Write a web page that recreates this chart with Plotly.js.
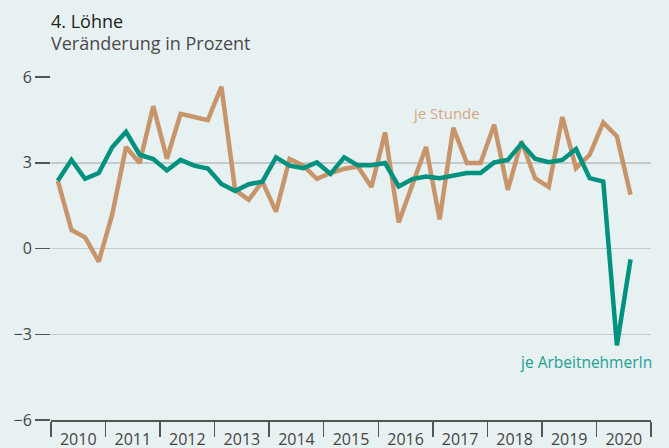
<!DOCTYPE html>
<html>
<head>
<meta charset="utf-8">
<script src="https://cdn.plot.ly/plotly-3.0.1.min.js"></script>
<style>html,body{margin:0;padding:0;background:#e8f1f2;}#chart{width:669px;height:448px;}</style>
</head>
<body>
<div id="chart"></div>
<script>
// Quarterly data, 2010 Q1 – 2020 Q3
const years = [2010, 2011, 2012, 2013, 2014, 2015, 2016, 2017, 2018, 2019, 2020];
const quarters = [];
years.forEach(y => { for (let q = 1; q <= 4; q++) quarters.push(y + (q - 0.5) / 4); });
const xq = quarters.slice(0, 43);

const jeStunde = [2.37, 0.65, 0.39, -0.46, 1.21, 3.55, 2.99, 4.98, 3.14, 4.71, 4.60, 4.49,
  5.66, 2.05, 1.70, 2.34, 1.29, 3.13, 2.90, 2.44, 2.64, 2.79, 2.87, 2.15,
  4.06, 0.91, 2.23, 3.55, 1.02, 4.22, 2.99, 2.99, 4.33, 2.05, 3.75, 2.46,
  2.15, 4.60, 2.81, 3.28, 4.41, 3.92, 1.88];
const jeArbeitnehmerIn = [2.37, 3.10, 2.44, 2.64, 3.55, 4.08, 3.28, 3.13, 2.73, 3.10, 2.90, 2.80,
  2.26, 2.01, 2.25, 2.34, 3.19, 2.90, 2.81, 3.01, 2.61, 3.19, 2.91, 2.91,
  2.99, 2.17, 2.43, 2.52, 2.46, 2.56, 2.64, 2.64, 3.01, 3.10, 3.67, 3.14,
  3.02, 3.10, 3.48, 2.46, 2.34, -3.39, -0.38];

const yTicks = [-6, -3, 0, 3, 6];
const boundaries = years.concat([2021]);
const labelPos = years.map(y => y + 0.5);
const labelText = years.map(String);

const tan = '#c8956a';
const teal = '#00927f';

const traces = [
  { x: xq, y: jeStunde, type: 'scatter', mode: 'lines', name: 'je Stunde',
    line: { color: tan, width: 4.5, shape: 'linear' }, hoverinfo: 'skip' },
  { x: xq, y: jeArbeitnehmerIn, type: 'scatter', mode: 'lines', name: 'je ArbeitnehmerIn',
    line: { color: teal, width: 4.5, shape: 'linear' }, hoverinfo: 'skip' }
];

const font = "'Open Sans', 'DejaVu Sans', sans-serif";
const layout = {
  width: 669, height: 448,
  paper_bgcolor: '#e8f1f2', plot_bgcolor: '#e8f1f2',
  margin: { l: 51, r: 18, t: 77, b: 28, pad: 0 },
  showlegend: false,
  font: { family: font, color: '#444', size: 16 },
  xaxis: {
    range: [2010, 2021], showgrid: false, zeroline: false,
    showline: true, linecolor: '#555', linewidth: 1.5,
    tickmode: 'array', tickvals: labelPos, ticktext: labelText,
    ticks: 'outside', ticklen: 4, tickcolor: 'rgba(0,0,0,0)',
    tickfont: { size: 16, color: '#444', family: font },
    minor: { tickmode: 'array', tickvals: boundaries, ticks: 'outside', ticklen: 15, tickcolor: '#555', tickwidth: 1.5, showgrid: false },
    fixedrange: true
  },
  yaxis: {
    range: [-6, 6], zeroline: false, showline: false,
    tickmode: 'array', tickvals: yTicks,
    ticks: 'outside', ticklen: 15, tickcolor: '#555', tickwidth: 1.5,
    showgrid: true, gridcolor: '#c5cacc', gridwidth: 1.5,
    tickfont: { size: 16, color: '#444', family: font },
    fixedrange: true
  },
  annotations: [
    { text: '4. Löhne', xref: 'paper', yref: 'paper', x: 0, y: 1, xanchor: 'left', yanchor: 'middle',
      yshift: 56, xshift: -2, showarrow: false, font: { size: 18, color: '#222', family: font, weight: 500 } },
    { text: 'Veränderung in Prozent', xref: 'paper', yref: 'paper', x: 0, y: 1, xanchor: 'left', yanchor: 'middle',
      yshift: 34, xshift: -2, showarrow: false, font: { size: 18, color: '#4a4a4a', family: font } },
    { text: 'je Stunde', xref: 'x', yref: 'y', x: 2016.6, y: 4.73, xanchor: 'left', yanchor: 'middle',
      showarrow: false, font: { size: 15, color: '#d4a882', family: font } },
    { text: 'je ArbeitnehmerIn', xref: 'paper', yref: 'y', x: 1, y: -3.96, xanchor: 'right', yanchor: 'middle',
      xshift: 3, showarrow: false, font: { size: 15.5, color: '#22a092', family: font } }
  ]
};

Plotly.newPlot('chart', traces, layout, { displayModeBar: false, staticPlot: true });
</script>
</body>
</html>
